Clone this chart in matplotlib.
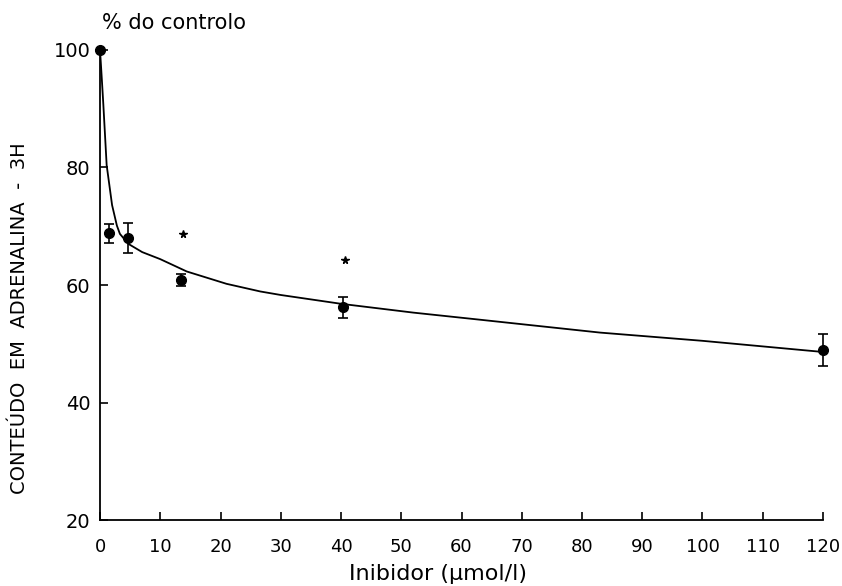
import matplotlib
matplotlib.use("Agg")
import matplotlib.pyplot as plt

plt.rcParams['font.family'] = ['DejaVu Sans']

# measured points
conc = [0, 1.5, 4.7, 13.5, 40.3, 120]
resp = [100, 68.8, 68.0, 60.8, 56.2, 48.9]
err = [0, 1.6, 2.6, 1.05, 1.8, 2.7]

# significance stars
star_x = [13.8, 40.7]
star_y = [68.7, 64.2]

# fitted curve
curve_x = [0, 0.3, 0.55, 1.1, 2.0, 2.8, 3.3, 4.7, 7, 10, 14.4, 21, 26.6, 30, 40, 52, 63, 83, 100, 120]
curve_y = [100, 95, 90.7, 80.4, 73.6, 70.1, 68.7, 67.0, 65.6, 64.4, 62.3, 60.2, 58.9, 58.3, 56.8, 55.3, 54.1, 51.9, 50.5, 48.6]

xticks = list(range(0, 121, 10))
yticks = [20, 40, 60, 80, 100]

fig = plt.figure(figsize=(8.42, 5.86), dpi=100)
ax = fig.add_axes([0.1188, 0.1126, 0.8586, 0.8021])

ax.plot(curve_x, curve_y, color='black', lw=1.3, solid_capstyle='round')
ax.errorbar(conc, resp, yerr=err, fmt='o', color='black', ms=7, capsize=3.5,
            elinewidth=1.2, capthick=1.2, clip_on=False, zorder=3)
ax.plot(star_x, star_y, linestyle='none', marker='*', color='black', ms=5.5)

ax.set_xlim(0, 120)
ax.set_ylim(20, 100)
ax.set_xticks(xticks)
ax.set_yticks(yticks)
ax.spines['top'].set_visible(False)
ax.spines['right'].set_visible(False)
ax.spines['left'].set_linewidth(1.3)
ax.spines['bottom'].set_linewidth(1.3)
ax.tick_params(direction='in', length=6, width=1.2)
ax.tick_params(axis='x', pad=13, labelsize=13)
ax.tick_params(axis='y', pad=7, labelsize=14)

ax.set_xlabel('Inibidor (µmol/l)', fontsize=16)
ax.xaxis.set_label_coords(0.4675, -0.094)
ax.set_ylabel('CONTEÚDO  EM  ADRENALINA  -  3H', fontsize=14)
ax.yaxis.set_label_coords(-0.098, 0.43)
fig.text(0.207, 0.961, '% do controlo', fontsize=15, ha='center', va='center')

fig.savefig('out.png', dpi=100)
